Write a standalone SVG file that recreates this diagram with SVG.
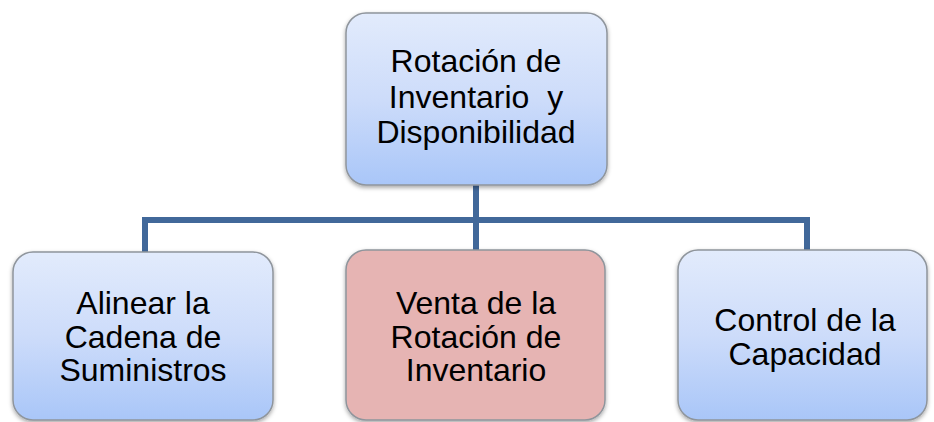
<svg xmlns="http://www.w3.org/2000/svg" width="934" height="422" viewBox="0 0 934 422">
<style>
.box{stroke:#8f959c;stroke-width:1.5}
.blue{fill:url(#gb)}
.red{fill:#e6b4b3}
.t{font-family:"Liberation Sans",Arial,sans-serif;font-size:32px;fill:#000;text-anchor:middle}
.pre{white-space:pre}
.c{fill:none;stroke:#41689a;stroke-width:6;stroke-linejoin:miter}
</style>
<defs>
<linearGradient id="gb" x1="0" y1="0" x2="0" y2="1">
<stop offset="0" stop-color="#e2ebfc"/>
<stop offset="0.5" stop-color="#cddcfa"/>
<stop offset="1" stop-color="#a9c6f8"/>
</linearGradient>
<filter id="sh" x="-10%" y="-10%" width="120%" height="125%">
<feDropShadow dx="0" dy="2" stdDeviation="2" flood-color="#000" flood-opacity="0.35"/>
</filter>
</defs>
<g id="connectors">
<path class="c" d="M476 185 V220 M145 252 V220 H807 V252 M476 220 V250"/>
</g>
<g id="root">
<rect class="box blue" x="346" y="13" width="261" height="172" rx="20" filter="url(#sh)"/>
<text class="t" x="476" y="72">Rotación de</text>
<text class="t pre" x="476" y="108" xml:space="preserve">Inventario  y</text>
<text class="t" x="476" y="143">Disponibilidad</text>
</g>
<g id="n1">
<rect class="box blue" x="13" y="252" width="260" height="168" rx="20" filter="url(#sh)"/>
<text class="t" x="143" y="314">Alinear la</text>
<text class="t" x="143" y="348">Cadena de</text>
<text class="t" x="143" y="381">Suministros</text>
</g>
<g id="n2">
<rect class="box red" x="346" y="250" width="259" height="170" rx="20" filter="url(#sh)"/>
<text class="t" x="476" y="314">Venta de la</text>
<text class="t" x="476" y="348">Rotación de</text>
<text class="t" x="476" y="381">Inventario</text>
</g>
<g id="n3">
<rect class="box blue" x="678" y="250" width="249" height="170" rx="20" filter="url(#sh)"/>
<text class="t" x="805" y="331">Control de la</text>
<text class="t" x="805" y="365">Capacidad</text>
</g>
</svg>
